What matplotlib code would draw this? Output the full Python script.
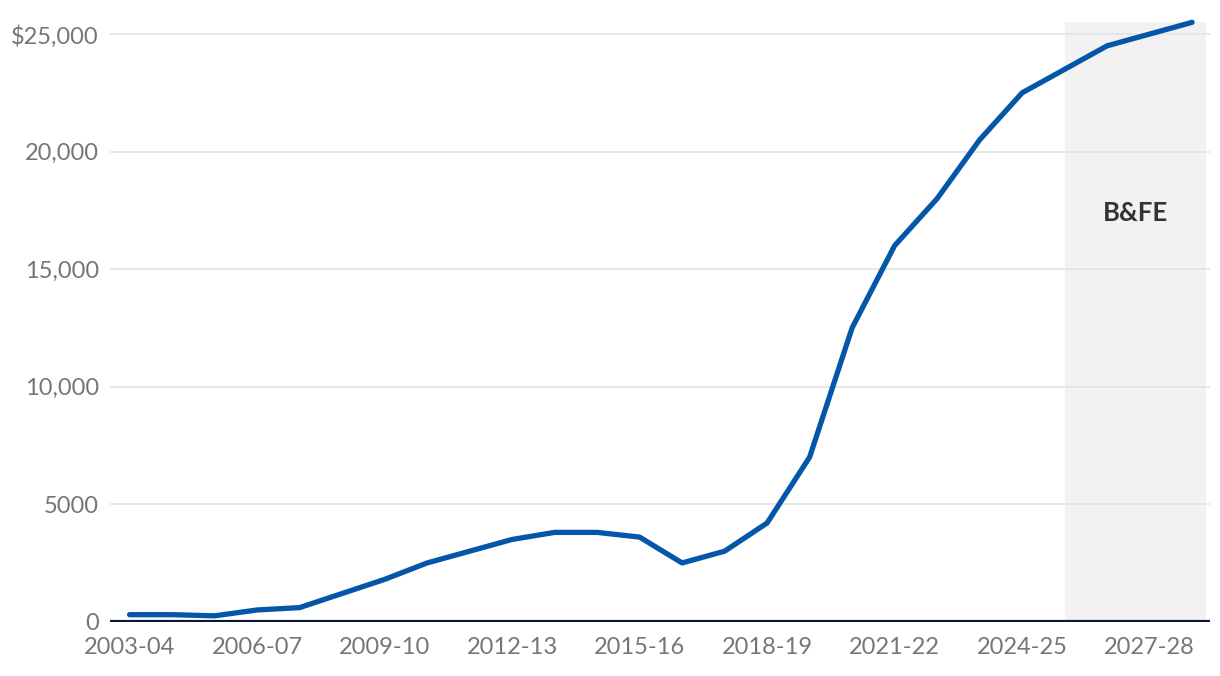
import matplotlib
matplotlib.use("Agg")
import matplotlib.pyplot as plt
from matplotlib.ticker import FixedLocator

years = ["2003-04", "2004-05", "2005-06", "2006-07", "2007-08", "2008-09", "2009-10",
         "2010-11", "2011-12", "2012-13", "2013-14", "2014-15", "2015-16", "2016-17",
         "2017-18", "2018-19", "2019-20", "2020-21", "2021-22", "2022-23", "2023-24",
         "2024-25", "2025-26", "2026-27", "2027-28", "2028-29"]
values = [300, 300, 250, 500, 600, 1200, 1800, 2500, 3000, 3500, 3800, 3800, 3600,
          2500, 3000, 4200, 7000, 12500, 16000, 18000, 20500, 22500, 23500, 24500,
          25000, 25500]
ytick_values = [0, 5000, 10000, 15000, 20000, 25000]
ytick_labels = ["0", "5000", "10,000", "15,000", "20,000", "$25,000"]
xtick_labels = ["2003-04", "2006-07", "2009-10", "2012-13", "2015-16", "2018-19",
                "2021-22", "2024-25", "2027-28"]
forecast_start = "2025-26"
forecast_label = "B&FE"

plt.rcParams['font.family'] = ['Lato', 'DejaVu Sans']

fig = plt.figure(figsize=(12.2, 6.76), dpi=100)
ax = fig.add_axes([0.0902, 0.0803, 0.9016, 0.8867])

x = list(range(len(years)))
fs = years.index(forecast_start)
ax.axvspan(fs, len(years) - 0.67, color="#f2f2f2", lw=0, zorder=0)
ax.text((fs + len(years) - 0.67) / 2, 17400, forecast_label, ha="center", va="center",
        fontsize=18.5, fontweight="bold", color="#333333")

ax.plot(x, values, color="#0456a8", lw=3.8, solid_capstyle="round",
        solid_joinstyle="round", zorder=3, clip_on=False)

ax.set_xlim(-0.459, len(years) - 0.58)
ax.set_ylim(0, 25500)
ax.yaxis.set_major_locator(FixedLocator(ytick_values))
ax.set_yticklabels(ytick_labels)
xt = [years.index(t) for t in xtick_labels]
ax.set_xticks(xt)
ax.set_xticklabels(xtick_labels)

for v in ytick_values[1:]:
    ax.axhline(v, color="#e6e6e6", lw=1.4, zorder=1)
ax.axhline(0, color="#0b1736", lw=3, zorder=2)

for s in ax.spines.values():
    s.set_visible(False)
ax.tick_params(axis="both", length=0, labelsize=17, labelcolor="#767676")
ax.tick_params(axis="y", pad=8)
ax.tick_params(axis="x", pad=11)
ax.set_facecolor("white")

fig.savefig("out.png", dpi=100, facecolor="white")
